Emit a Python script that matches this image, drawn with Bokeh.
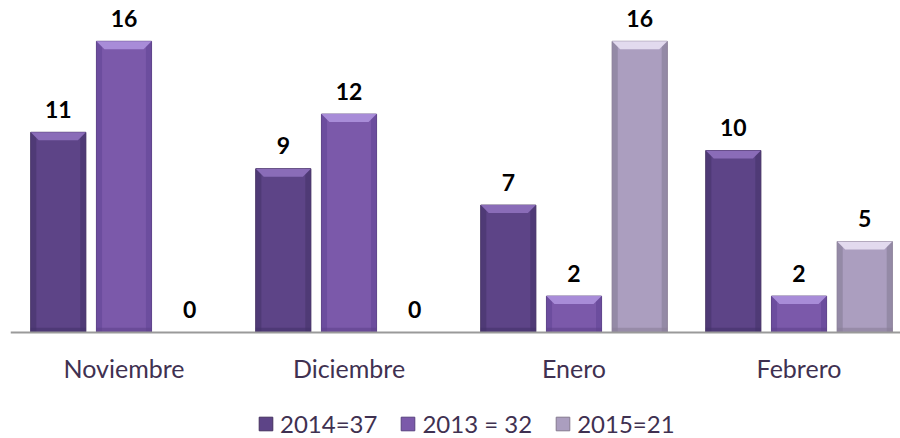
from bokeh.plotting import figure
from bokeh.models import Range1d, Legend, LegendItem, Span, ColumnDataSource
from bokeh.core.properties import value
from bokeh.embed import file_html
from bokeh.resources import INLINE

# ---- data ----
categories = ["Noviembre", "Diciembre", "Enero", "Febrero"]
series_names = ["2014=37", "2013 = 32", "2015=21"]
v2014 = [11, 9, 7, 10]
v2013 = [16, 12, 2, 2]
v2015 = [0, 0, 16, 5]

# ---- style ----
FONT = "Lato"
TEXT_COLOR = "#3f3151"
body_colors = ["#5d4487", "#7b59aa", "#ab9ebf"]
top_colors = ["#8a6cb8", "#a88cd8", "#e2daee"]
side_colors = ["#4c3872", "#694a9b", "#8f84a0"]
bottom_colors = ["#45326a", "#5f438c", "#8a7f9a"]
edge_colors = ["#44305f", "#58407f", "#85798f"]

offsets = [-0.292, 0.0, 0.292]
W = 0.245
X0, X1 = -0.0044, 3.951
PX_X = 890 / (X1 - X0)
PX_Y = 18.2
BX = 8 / PX_X
BY = 8 / PX_Y

p = figure(width=900, height=438, output_backend="svg", toolbar_location=None,
           x_range=Range1d(X0, X1), y_range=Range1d(-106 / PX_Y, 332 / PX_Y),
           x_axis_location=None, y_axis_location=None,
           min_border_left=10, min_border_right=0, min_border_top=0, min_border_bottom=0,
           outline_line_color=None)
p.xgrid.visible = False
p.ygrid.visible = False

centers = [i + 0.5 for i in range(len(categories))]
renderers = []
for k, vals in enumerate([v2014, v2013, v2015]):
    xs = [c + offsets[k] for c in centers]
    src = ColumnDataSource(dict(x=xs, top=vals, label=[str(v) for v in vals]))
    r = p.vbar(x="x", width=W, top="top", bottom=0, source=src,
               fill_color=body_colors[k], line_color=edge_colors[k], line_width=1)
    renderers.append(r)
    nz = [(x, v) for x, v in zip(xs, vals) if v > 0]
    if nz:
        # side shading
        p.quad(left=[x - W / 2 for x, v in nz], right=[x - W / 2 + BX * 0.7 for x, v in nz],
               bottom=0, top=[v for x, v in nz], fill_color=side_colors[k], line_color=None, fill_alpha=0.8)
        p.quad(left=[x + W / 2 - BX * 0.7 for x, v in nz], right=[x + W / 2 for x, v in nz],
               bottom=0, top=[v for x, v in nz], fill_color=side_colors[k], line_color=None, fill_alpha=0.8)
        # bottom bevel
        p.quad(left=[x - W / 2 for x, v in nz], right=[x + W / 2 for x, v in nz],
               bottom=0, top=[min(v, BY * 0.6) for x, v in nz], fill_color=bottom_colors[k],
               line_color=None, fill_alpha=0.6)
        # top bevel (trapezoid)
        pxs = [[x - W / 2, x + W / 2, x + W / 2 - BX, x - W / 2 + BX] for x, v in nz]
        pys = [[v, v, v - min(v, BY), v - min(v, BY)] for x, v in nz]
        p.patches(xs=pxs, ys=pys, fill_color=top_colors[k], line_color=None)
    # value labels
    p.text(x="x", y="top", text="label", source=src, text_align="center",
           text_baseline="alphabetic", y_offset=-23, text_font=value(FONT),
           text_font_style="bold", text_font_size="23px", text_color="#000000")

# baseline (category axis line)
p.add_layout(Span(location=0, dimension="width", line_color="#9a9a9a", line_width=2))

# category labels
p.text(x=centers, y=[0] * len(categories), text=categories, text_align="center",
       text_baseline="middle", y_offset=35, text_font=value(FONT),
       text_font_size="25px", text_color=TEXT_COLOR)

legend = Legend(items=[LegendItem(label=n, renderers=[r]) for n, r in zip(series_names, renderers)],
                orientation="horizontal", location=(247, 0),
                label_text_font=FONT, label_text_font_size="24px", label_text_color=TEXT_COLOR,
                glyph_width=17, glyph_height=17, label_standoff=6, spacing=22,
                padding=0, margin=0, border_line_color=None, background_fill_alpha=0)
p.add_layout(legend)

open("out.html", "w").write(file_html(p, INLINE))
